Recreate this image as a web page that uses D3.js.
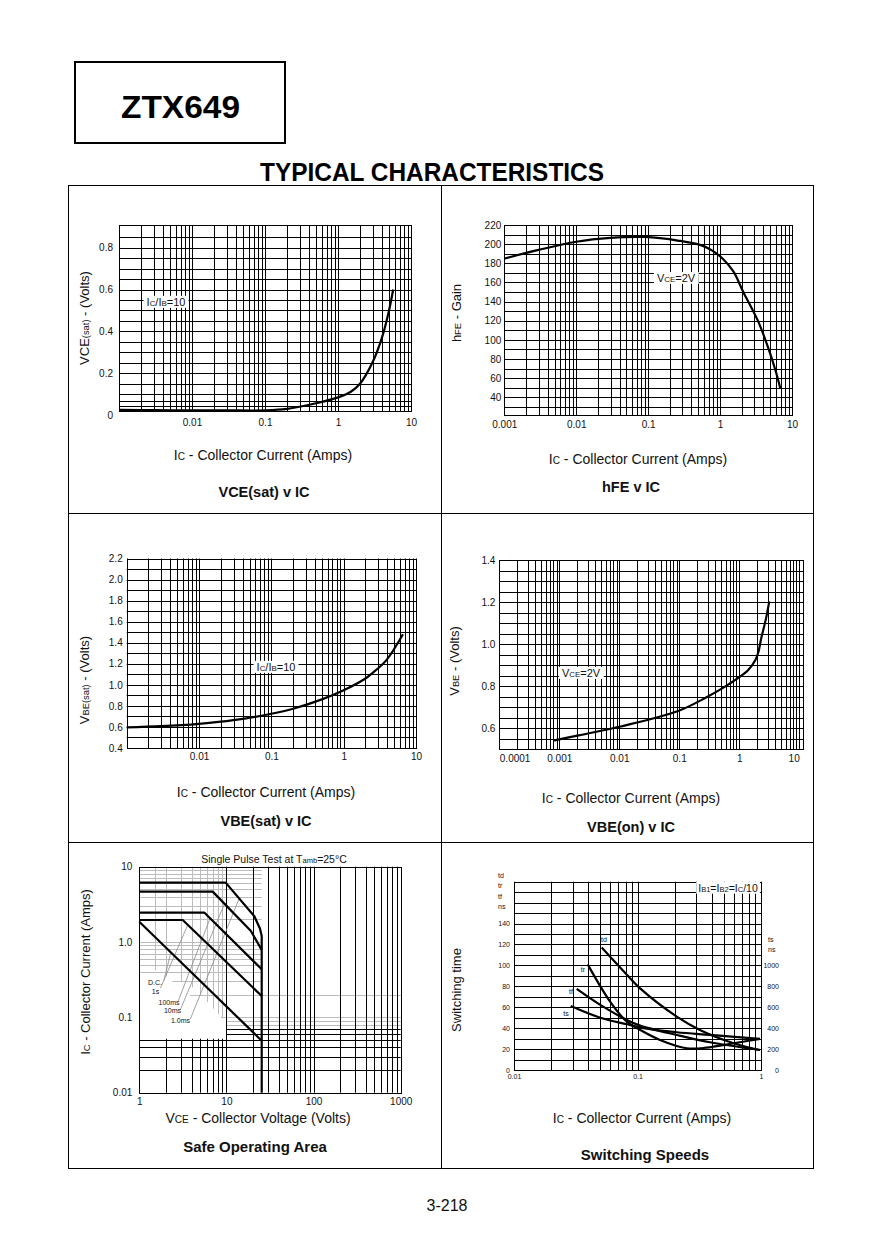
<!DOCTYPE html>
<html><head><meta charset="utf-8">
<script src="https://cdn.jsdelivr.net/npm/d3@7"></script>
<style>body{margin:0;background:#fff}svg{display:block}</style>
</head><body><svg id="c" width="879" height="1240"></svg>
<script>
// ---------------- DATA ----------------
// Panel 1: VCE(sat) v IC
const vceIc   = [0.001,0.003,0.01,0.03,0.1,0.2,0.5,1,1.5,2,3,4,5,5.7];
const vceSat  = [0.025,0.024,0.023,0.023,0.023,0.03,0.057,0.085,0.112,0.15,0.255,0.37,0.5,0.6];
const vceXTicks = [0.01,0.1,1,10];
const vceXLabels = ["0.01","0.1","1","10"];
const vceYTicks = [0,0.2,0.4,0.6,0.8];
const vceYLabels = ["0","0.2","0.4","0.6","0.8"];
const vceYGrid = [0.045,0.07,0.1,0.15,0.2,0.25,0.3,0.35,0.4,0.45,0.5,0.55,0.6,0.65,0.7,0.75,0.8,0.85];

// Panel 2: hFE v IC
const hfeIc = [0.001,0.003,0.01,0.03,0.09,0.27,0.54,0.75,1.08,1.53,2.1,3.4,4.8,5.9,6.9];
const hfe   = [185,194,202.5,206.5,207.5,203.5,199,194,185,171.5,150,119,89,68,49];
const hfeXTicks = [0.001,0.01,0.1,1,10];
const hfeXLabels = ["0.001","0.01","0.1","1","10"];
const hfeYTicks = [40,60,80,100,120,140,160,180,200,220];
const hfeYGrid = [30,40,50,60,70,80,90,100,110,120,130,140,150,160,170,180,190,200,210];

// Panel 3: VBE(sat) v IC
const vbeSatIc = [0.001,0.003,0.01,0.03,0.1,0.2,0.5,1,2,2.45,3.9,6.6];
const vbeSat   = [0.595,0.607,0.63,0.664,0.725,0.773,0.862,0.948,1.06,1.107,1.235,1.48];
const vbeSatXTicks = [0.01,0.1,1,10];
const vbeSatXLabels = ["0.01","0.1","1","10"];
const vbeSatYTicks = [0.4,0.6,0.8,1.0,1.2,1.4,1.6,1.8,2.0,2.2];
const vbeSatYLabels = ["0.4","0.6","0.8","1.0","1.2","1.4","1.6","1.8","2.0","2.2"];
const vbeSatYGrid = [0.5,0.6,0.7,0.8,0.9,1.0,1.1,1.2,1.3,1.4,1.5,1.6,1.7,1.8,1.9,2.0,2.1];

// Panel 4: VBE(on) v IC
const vbeOnIc = [0.00082,0.001,0.01,0.096,0.28,0.58,0.95,1.4,1.87,2.1,2.33,2.77,3.17];
const vbeOn   = [0.54,0.546,0.606,0.681,0.745,0.797,0.837,0.875,0.925,0.965,1.028,1.116,1.203];
const vbeOnXTicks = [0.0001,0.001,0.01,0.1,1,10];
const vbeOnXLabels = ["0.0001","0.001","0.01","0.1","1","10"];
const vbeOnYTicks = [0.6,0.8,1.0,1.2,1.4];
const vbeOnYLabels = ["0.6","0.8","1.0","1.2","1.4"];
const vbeOnYGrid = [0.55,0.6,0.65,0.7,0.75,0.8,0.85,0.9,0.95,1.0,1.05,1.1,1.15,1.2,1.25,1.3,1.35];

// Panel 5: Safe Operating Area (volts, amps)
const soaV_dc    = [1,25.4];             const soaI_dc    = [1.86,0.049];
const soaV_1s    = [1,3.15,25.4];        const soaI_1s    = [1.96,1.96,0.192];
const soaV_100ms = [1,5.6,25.4];         const soaI_100ms = [2.45,2.45,0.435];
const soaV_10ms  = [1,6.96,19.1,25.4];   const soaI_10ms  = [4.67,4.67,1.4,0.785];
const soaV_1ms   = [1,9.8,20.9,24.3,25.4,25.4]; const soaI_1ms = [6.15,6.15,2.2,1.5,1.2,0.785];
const soaV_limit = [25.4,25.4];          const soaI_limit = [0.785,0.01];
const soaLabels  = ["D.C.","1s","100ms","10ms","1.0ms"];
const soaLeaderFromV = [1.92,1.75,2.8,2.95,3.85];
const soaLeaderFromI = [0.31,0.245,0.165,0.125,0.095];
const soaLeaderToV   = [2.3,3.6,6.5,9.5,14];
const soaLeaderToI   = [0.73,1.69,2.07,3.22,3.79];
const soaXTicks = [1,10,100,1000];
const soaXLabels = ["1","10","100","1000"];
const soaYTicks = [0.01,0.1,1,10];
const soaYLabels = ["0.01","0.1","1.0","10"];
const soaGrayV = [1.5,2,3,4,5,6,7,8,9];
const soaGrayVEnd = [0.42,0.35,0.3,0.25,0.2,0.16,0.13,0.11,0.097];
const soaGrayH = [0.06,0.07,0.08,0.09,0.1,0.2,0.3,0.4,0.5,0.6,0.7,0.8,0.9,1,2,3,4,5,6,7,8,9];
const soaGrayHLong = [0.08,0.09,0.1,0.2];
const soaBlackV = [10,20,30,40,50,60,70,80,90,100,200,300,400,500,600,700,800,900];
const soaBlackVLow = [2,3,4,5,6,7,8,9];
const soaBlackH = [0.02,0.03,0.04,0.05];
const soaBlackHRight = [0.06,0.07];

// Panel 6: Switching speeds (IC amps, ns)
const tdIc = [0.0513,0.082,0.105,0.208,0.32,0.6,0.98];
const td   = [117,91,78,51,38.3,25.6,19.1];
const trIc = [0.0395,0.06,0.082,0.105,0.152,0.25,0.36,0.6,0.98];
const tr   = [101,65.4,46.2,38.3,28.7,20.8,21.3,25.6,29.7];
const tfIc = [0.0322,0.05,0.082,0.105,0.208,0.386,0.98];
const tf   = [77.5,62.2,47.8,42.4,33.5,26.5,19.1];
const tsIc = [0.0288,0.05,0.082,0.112,0.208,0.386,0.98];
const ts   = [612,500,437,399,361,335,297];
const swXTicks = [0.01,0.1,1];
const swXLabels = ["0.01","0.1","1"];
const swYTicks = [0,20,40,60,80,100,120,140];
const swYRTicks = [0,200,400,600,800,1000];
const swYGrid = [10,20,30,40,50,60,70,80,90,100,110,120,130,140,150,160,170];

// ---------------- HELPERS ----------------
const FONT = '"Liberation Sans", Arial, Helvetica, sans-serif';
const NARROW = '"Liberation Sans Narrow", "Liberation Sans", Arial, sans-serif';
const svg = d3.select("#c");

function logMinors(lo, hi) {
  const out = [];
  for (let e = Math.round(Math.log10(lo)); e < Math.round(Math.log10(hi)); e++)
    for (let k = 1; k <= 9; k++) out.push(+(k * Math.pow(10, e)).toPrecision(6));
  out.push(hi);
  return out;
}
function vLines(g, vals, x, y1, y2, color) {
  g.append("g").selectAll("line").data(vals).join("line")
    .attr("x1", d => Math.round(x(d)) + 0.5).attr("x2", d => Math.round(x(d)) + 0.5)
    .attr("y1", y1).attr("y2", y2)
    .attr("stroke", color || "#000").attr("stroke-width", 1);
}
function hLines(g, vals, y, x1, x2, color) {
  g.append("g").selectAll("line").data(vals).join("line")
    .attr("y1", d => Math.round(y(d)) + 0.5).attr("y2", d => Math.round(y(d)) + 0.5)
    .attr("x1", x1).attr("x2", x2)
    .attr("stroke", color || "#000").attr("stroke-width", 1);
}
function rich(g, cx, cy, parts, o) {
  const fs = o.size;
  const t = g.append("text").attr("font-family", o.family || FONT).attr("font-size", fs)
    .attr("text-anchor", o.anchor || "middle").attr("fill", "#111");
  if (o.weight) t.attr("font-weight", o.weight);
  if (o.rotate) {
    t.attr("x", cx).attr("y", cy + 0.35 * fs).attr("transform", `rotate(-90,${cx},${cy})`);
  } else {
    t.attr("x", cx).attr("y", cy + 0.35 * fs);
  }
  parts.forEach(p => {
    const s = t.append("tspan").text(p[0]);
    if (p[1]) s.attr("font-size", fs * 0.72);
  });
  if (o.bg) {
    const bb = t.node().getBBox();
    g.insert("rect", () => t.node())
      .attr("x", bb.x - o.bg[0]).attr("y", bb.y - o.bg[1])
      .attr("width", bb.width + 2 * o.bg[0]).attr("height", bb.height + 2 * o.bg[1])
      .attr("fill", "#fff");
  }
  return t;
}
function addAxis(g, axis, tx, ty, fs) {
  const a = g.append("g").attr("transform", `translate(${tx},${ty})`).call(axis);
  a.select(".domain").remove();
  a.attr("font-size", fs).attr("font-family", FONT);
  a.selectAll("text").attr("fill", "#111");
  return a;
}
function frame(g, L, R, T, B) {
  g.append("rect").attr("x", Math.round(L) + 0.5).attr("y", Math.round(T) + 0.5)
    .attr("width", Math.round(R) - Math.round(L)).attr("height", Math.round(B) - Math.round(T))
    .attr("fill", "none").attr("stroke", "#000").attr("stroke-width", 1);
}
function curve(g, xs, ys, x, y, lin) {
  const ln = d3.line().x(d => x(d[0])).y(d => y(d[1]))
    .curve(lin ? d3.curveLinear : d3.curveCatmullRom.alpha(0.5));
  g.append("path").attr("d", ln(d3.zip(xs, ys))).attr("fill", "none")
    .attr("stroke", "#000").attr("stroke-width", 2.2).attr("stroke-linejoin", "round");
}
const IC_LABEL = [["I"],["C",1],[" - Collector Current (Amps)"]];

// ---------------- PAGE ----------------
svg.append("rect").attr("x", 75).attr("y", 62).attr("width", 210).attr("height", 81)
  .attr("fill", "none").attr("stroke", "#000").attr("stroke-width", 2);
svg.append("text").attr("x", 180.5).attr("y", 117.5).attr("text-anchor", "middle")
  .attr("font-family", NARROW).attr("font-weight", "bold").attr("font-size", 31)
  .attr("textLength", 119).attr("lengthAdjust", "spacingAndGlyphs").text("ZTX649");
svg.append("text").attr("x", 432).attr("y", 181).attr("text-anchor", "middle")
  .attr("font-family", NARROW).attr("font-weight", "bold").attr("font-size", 25)
  .attr("textLength", 344).attr("lengthAdjust", "spacingAndGlyphs").text("TYPICAL CHARACTERISTICS");
svg.append("rect").attr("x", 68.5).attr("y", 185.5).attr("width", 745).attr("height", 983)
  .attr("fill", "none").attr("stroke", "#000");
svg.append("line").attr("x1", 441.5).attr("x2", 441.5).attr("y1", 185).attr("y2", 1168).attr("stroke", "#000");
svg.append("line").attr("x1", 68).attr("x2", 813).attr("y1", 513.5).attr("y2", 513.5).attr("stroke", "#000");
svg.append("line").attr("x1", 68).attr("x2", 813).attr("y1", 842.5).attr("y2", 842.5).attr("stroke", "#000");
svg.append("text").attr("x", 447).attr("y", 1211).attr("text-anchor", "middle")
  .attr("font-family", FONT).attr("font-size", 16).attr("fill", "#111").text("3-218");

// ---------------- PANEL 1 ----------------
{
  const g = svg.append("g");
  const L = 119, R = 411, T = 225, B = 411;
  const x = d3.scaleLog().domain([0.001, 10]).range([L, R]);
  const y = d3.scaleLinear().domain([0.02, 0.908]).range([B, T]);
  vLines(g, logMinors(0.001, 10), x, T, B);
  hLines(g, vceYGrid, y, L, R);
  frame(g, L, R, T, B);
  curve(g, vceIc, vceSat, x, y);
  addAxis(g, d3.axisBottom(x).tickValues(vceXTicks).tickFormat((d, i) => vceXLabels[i]).tickSize(0).tickPadding(8), 0, B, 10);
  addAxis(g, d3.axisLeft(y).tickValues(vceYTicks).tickFormat((d, i) => vceYLabels[i]).tickSize(0).tickPadding(6), L, 0, 10);
  rich(g, 166, 302, [["I"],["C",1],["/I"],["B",1],["=10"]], {size: 11, bg: [3, 0]});
  rich(g, 84, 318, [["VCE"],["(sat)",1],[" - (Volts)"]], {size: 13, rotate: true});
  rich(g, 263, 455, IC_LABEL, {size: 14});
  rich(g, 264, 492, [["VCE(sat) v IC"]], {size: 14.5, weight: "bold"});
}
// ---------------- PANEL 2 ----------------
{
  const g = svg.append("g");
  const L = 504.3, R = 792, T = 225, B = 415;
  const x = d3.scaleLog().domain([0.001, 10]).range([L, R]);
  const y = d3.scaleLinear().domain([21.5, 220]).range([B, T]);
  vLines(g, logMinors(0.001, 10), x, T, B);
  hLines(g, hfeYGrid, y, L, R);
  frame(g, L, R, T, B);
  curve(g, hfeIc, hfe, x, y);
  addAxis(g, d3.axisBottom(x).tickValues(hfeXTicks).tickFormat((d, i) => hfeXLabels[i]).tickSize(0).tickPadding(6), 0, B, 10);
  addAxis(g, d3.axisLeft(y).tickValues(hfeYTicks).tickFormat(d3.format("d")).tickSize(0).tickPadding(3), L, 0, 10);
  rich(g, 676, 278, [["V"],["CE",1],["=2V"]], {size: 11, bg: [3, 0]});
  rich(g, 456, 313, [["h"],["FE",1],[" - Gain"]], {size: 13, rotate: true});
  rich(g, 638, 459, IC_LABEL, {size: 14});
  rich(g, 631, 487, [["hFE v IC"]], {size: 14.5, weight: "bold"});
}
// ---------------- PANEL 3 ----------------
{
  const g = svg.append("g");
  const L = 126.7, R = 416, T = 558.5, B = 748;
  const x = d3.scaleLog().domain([0.001, 10]).range([L, R]);
  const y = d3.scaleLinear().domain([0.4, 2.2]).range([B, T]);
  vLines(g, logMinors(0.001, 10), x, T, B);
  hLines(g, vbeSatYGrid, y, L, R);
  frame(g, L, R, T, B);
  curve(g, vbeSatIc, vbeSat, x, y);
  addAxis(g, d3.axisBottom(x).tickValues(vbeSatXTicks).tickFormat((d, i) => vbeSatXLabels[i]).tickSize(0).tickPadding(5), 0, B, 10);
  addAxis(g, d3.axisLeft(y).tickValues(vbeSatYTicks).tickFormat((d, i) => vbeSatYLabels[i]).tickSize(0).tickPadding(4), L, 0, 10);
  rich(g, 276, 667, [["I"],["C",1],["/I"],["B",1],["=10"]], {size: 11, bg: [3, 0]});
  rich(g, 84, 680, [["V"],["BE(sat)",1],[" - (Volts)"]], {size: 13, rotate: true});
  rich(g, 266, 792, IC_LABEL, {size: 14});
  rich(g, 266, 821, [["VBE(sat) v IC"]], {size: 14.5, weight: "bold"});
}
// ---------------- PANEL 4 ----------------
{
  const g = svg.append("g");
  const L = 499.3, R = 803.3, T = 560, B = 749;
  const x = d3.scaleLog().domain([0.0001, 11.7]).range([L, R]);
  const y = d3.scaleLinear().domain([0.5, 1.4]).range([B, T]);
  vLines(g, logMinors(0.0001, 10), x, T, B);
  hLines(g, vbeOnYGrid, y, L, R);
  frame(g, L, R, T, B);
  curve(g, vbeOnIc, vbeOn, x, y);
  const ax = addAxis(g, d3.axisBottom(x).tickValues(vbeOnXTicks).tickFormat((d, i) => vbeOnXLabels[i]).tickSize(0).tickPadding(6), 0, B, 10);
  ax.selectAll("text").filter((d, i) => i === 0).attr("text-anchor", "start");
  ax.selectAll("text").filter((d, i) => i === vbeOnXTicks.length - 1).attr("text-anchor", "end");
  addAxis(g, d3.axisLeft(y).tickValues(vbeOnYTicks).tickFormat((d, i) => vbeOnYLabels[i]).tickSize(0).tickPadding(4), L, 0, 10);
  rich(g, 581, 673, [["V"],["CE",1],["=2V"]], {size: 11, bg: [3, 0]});
  rich(g, 454, 661, [["V"],["BE",1],[" - (Volts)"]], {size: 13, rotate: true});
  rich(g, 631, 798, IC_LABEL, {size: 14});
  rich(g, 631, 827, [["VBE(on) v IC"]], {size: 14.5, weight: "bold"});
}
// ---------------- PANEL 5 ----------------
{
  const g = svg.append("g");
  const L = 139.3, R = 400.7, T = 866.7, B = 1092.7;
  const x = d3.scaleLog().domain([1, 1000]).range([L, R]);
  const y = d3.scaleLog().domain([0.01, 10]).range([B, T]);
  const GRAY = "#bcbcbc";
  const startX = v => v >= 0.4 ? L : x(Math.min(10, 2 * Math.pow(v / 0.35, -1 / 0.853)));
  g.append("g").selectAll("line").data(soaGrayH).join("line")
    .attr("y1", d => Math.round(y(d)) + 0.5).attr("y2", d => Math.round(y(d)) + 0.5)
    .attr("x1", d => startX(d)).attr("x2", x(25.4)).attr("stroke", GRAY);
  hLines(g, soaGrayHLong, y, x(25.4), R, GRAY);
  g.append("g").selectAll("line").data(soaGrayV).join("line")
    .attr("x1", d => Math.round(x(d)) + 0.5).attr("x2", d => Math.round(x(d)) + 0.5)
    .attr("y1", T).attr("y2", (d, i) => y(soaGrayVEnd[i])).attr("stroke", GRAY);
  vLines(g, soaBlackV, x, T, B);
  vLines(g, soaBlackVLow, x, y(0.052), B);
  hLines(g, soaBlackH, y, L, R);
  hLines(g, soaBlackHRight, y, x(10), R);
  frame(g, L, R, T, B);
  g.append("g").selectAll("line").data(soaLabels).join("line")
    .attr("x1", (d, i) => x(soaLeaderFromV[i])).attr("y1", (d, i) => y(soaLeaderFromI[i]))
    .attr("x2", (d, i) => x(soaLeaderToV[i])).attr("y2", (d, i) => y(soaLeaderToI[i]))
    .attr("stroke", "#8a8a8a").attr("stroke-width", 0.8);
  curve(g, soaV_dc, soaI_dc, x, y, true);
  curve(g, soaV_1s, soaI_1s, x, y, true);
  curve(g, soaV_100ms, soaI_100ms, x, y, true);
  curve(g, soaV_10ms, soaI_10ms, x, y, true);
  curve(g, soaV_1ms, soaI_1ms, x, y, true);
  curve(g, soaV_limit, soaI_limit, x, y, true);
  const lp = [[155, 983], [155.5, 991.5], [169, 1002.5], [172.5, 1010.5], [180.5, 1021]];
  soaLabels.forEach((t, i) => rich(g, lp[i][0], lp[i][1], [[t]], {size: 7}));
  addAxis(g, d3.axisBottom(x).tickValues(soaXTicks).tickFormat((d, i) => soaXLabels[i]).tickSize(0).tickPadding(5), 0, B, 10);
  addAxis(g, d3.axisLeft(y).tickValues(soaYTicks).tickFormat((d, i) => soaYLabels[i]).tickSize(0).tickPadding(7), L, 0, 10);
  rich(g, 274, 859, [["Single Pulse Test at T"],["amb",1],["=25\u00B0C"]], {size: 10.5});
  rich(g, 85, 972, IC_LABEL, {size: 13, rotate: true});
  rich(g, 258, 1118, [["V"],["CE",1],[" - Collector Voltage (Volts)"]], {size: 14});
  rich(g, 255, 1147, [["Safe Operating Area"]], {size: 15, weight: "bold"});
}
// ---------------- PANEL 6 ----------------
{
  const g = svg.append("g");
  const L = 514, R = 761, T = 881.7, B = 1070;
  const x = d3.scaleLog().domain([0.01, 1]).range([L, R]);
  const y = d3.scaleLinear().domain([0, 180]).range([B, T]);
  const yr = d3.scaleLinear().domain([0, 1800]).range([B, T]);
  vLines(g, logMinors(0.01, 1), x, T, B);
  hLines(g, swYGrid, y, L, R);
  frame(g, L, R, T, B);
  curve(g, tdIc, td, x, y);
  curve(g, trIc, tr, x, y);
  curve(g, tfIc, tf, x, y);
  curve(g, tsIc, ts, x, yr);
  addAxis(g, d3.axisBottom(x).tickValues(swXTicks).tickFormat((d, i) => swXLabels[i]).tickSize(0).tickPadding(4), 0, B, 7);
  addAxis(g, d3.axisLeft(y).tickValues(swYTicks).tickFormat(d3.format("d")).tickSize(0).tickPadding(4), L, 0, 7);
  const ar = addAxis(g, d3.axisRight(yr).tickValues(swYRTicks).tickFormat(d3.format("d")).tickSize(0).tickPadding(0), R, 0, 7);
  ar.selectAll("text").attr("text-anchor", "end").attr("x", 18);
  [["td", 876], ["tr", 886], ["tf", 896.5], ["ns", 907]].forEach(p =>
    rich(g, 498, p[1], [[p[0]]], {size: 7, anchor: "start"}));
  [["ts", 940], ["ns", 950]].forEach(p =>
    rich(g, 768, p[1], [[p[0]]], {size: 7, anchor: "start"}));
  [["td", 604, 940], ["tr", 583, 970], ["tf", 571, 992], ["ts", 566, 1014]].forEach(p =>
    rich(g, p[1], p[2], [[p[0]]], {size: 7}));
  rich(g, 728, 888, [["I"],["B1",1],["=I"],["B2",1],["=I"],["C",1],["/10"]], {size: 10.5, bg: [2, 0]});
  rich(g, 456, 990, [["Switching time"]], {size: 13, rotate: true});
  rich(g, 642, 1118, IC_LABEL, {size: 14});
  rich(g, 645, 1155, [["Switching Speeds"]], {size: 15, weight: "bold"});
}
</script></body></html>
